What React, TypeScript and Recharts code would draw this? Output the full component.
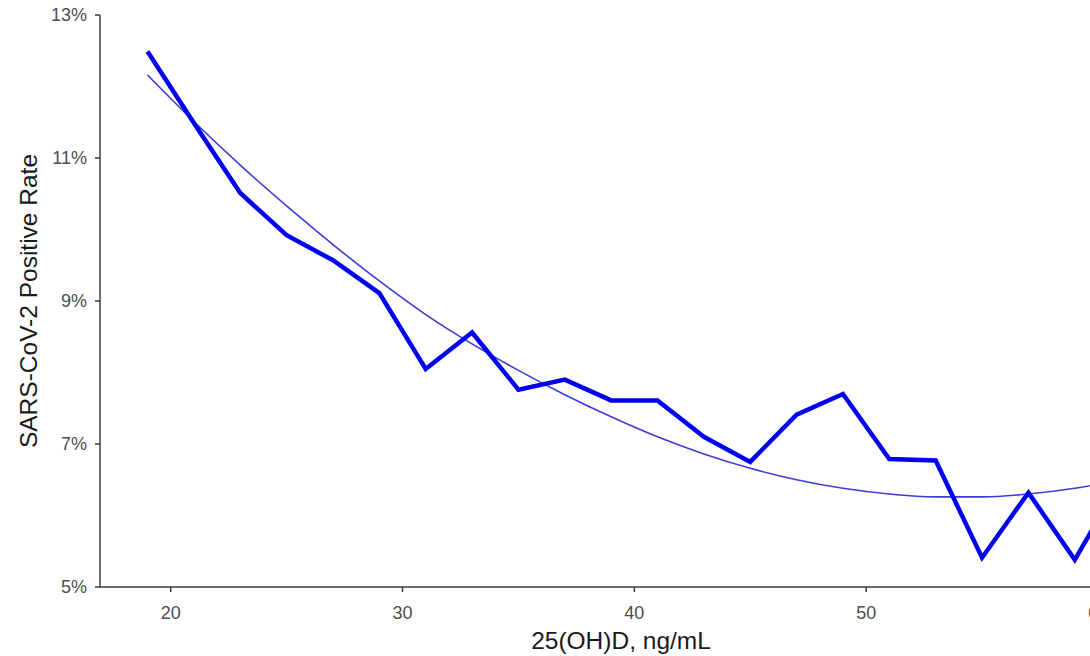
import React from "react";
import { LineChart, Line, XAxis, YAxis, Label } from "recharts";

// 25(OH)D levels (ng/mL), bin midpoints
const vitaminD = [19, 21, 23, 25, 27, 29, 31, 33, 35, 37, 39, 41, 43, 45, 47, 49, 51, 53, 55, 57, 59, 61];

// Observed SARS-CoV-2 positivity (%) per bin
const observedRate = [12.49, 11.49, 10.51, 9.92, 9.57, 9.11, 8.05, 8.56, 7.76, 7.9, 7.61, 7.61, 7.1, 6.75, 7.41, 7.7, 6.79, 6.77, 5.41, 6.32, 5.38, 6.5];

// Smoothed trend of the positivity (%)
const fittedRate = [12.16, 11.51, 10.9, 10.33, 9.79, 9.28, 8.81, 8.4, 8.03, 7.69, 7.38, 7.1, 6.86, 6.66, 6.5, 6.38, 6.3, 6.26, 6.26, 6.3, 6.38, 6.5];

const xTicks = [20, 30, 40, 50, 60];
const yTicks = [5, 7, 9, 11, 13];

const data = vitaminD.map((d, i) => ({
  d,
  observed: observedRate[i],
  fitted: fittedRate[i],
}));

const FONT = "'Liberation Sans', Arial, Helvetica, sans-serif";
const AXIS_COLOR = "#3d3d3d";
const TICK_COLOR = "#4d4d4d";

const YTitle = (props: any) => {
  const { viewBox } = props;
  const cx = 28;
  const cy = viewBox.y + viewBox.height / 2;
  return (
    <text
      x={cx}
      y={cy}
      transform={`rotate(-90, ${cx}, ${cy})`}
      textAnchor="middle"
      dominantBaseline="central"
      fontFamily={FONT}
      fontSize={24.5}
      fill="#1a1a1a"
    >
      SARS-CoV-2 Positive Rate
    </text>
  );
};

const XTitle = (props: any) => {
  const { viewBox } = props;
  const cx = viewBox.x + viewBox.width / 2;
  return (
    <text x={cx} y={649} textAnchor="middle" fontFamily={FONT} fontSize={24.5} fill="#1a1a1a">
      25(OH)D, ng/mL
    </text>
  );
};

export default function App() {
  return (
    <div
      style={{
        position: "absolute",
        left: 0,
        top: 0,
        width: 1090,
        height: 656,
        overflow: "hidden",
        background: "#fff",
      }}
    >
      <LineChart
        width={1142}
        height={656}
        data={data}
        margin={{ top: 15, right: 0, bottom: 0, left: 0 }}
      >
        <XAxis
          dataKey="d"
          type="number"
          domain={[16.95, 61.9]}
          ticks={xTicks}
          allowDataOverflow
          height={69}
          tickSize={5}
          tickMargin={14}
          stroke={AXIS_COLOR}
          strokeWidth={1.5}
          tick={{ fill: TICK_COLOR, fontSize: 18, fontFamily: FONT }}
        >
          <Label content={<XTitle />} />
        </XAxis>
        <YAxis
          type="number"
          domain={[5, 13]}
          ticks={yTicks}
          width={100}
          tickSize={5}
          tickMargin={8}
          stroke={AXIS_COLOR}
          strokeWidth={1.5}
          tickFormatter={(v: number) => `${v}%`}
          tick={{ fill: TICK_COLOR, fontSize: 18, fontFamily: FONT }}
        >
          <Label content={<YTitle />} />
        </YAxis>
        <Line
          dataKey="fitted"
          type="monotone"
          stroke="#3c3cd6"
          strokeWidth={1.6}
          dot={false}
          isAnimationActive={false}
        />
        <Line
          dataKey="observed"
          type="linear"
          stroke="#0000ee"
          strokeWidth={4.5}
          dot={false}
          isAnimationActive={false}
        />
      </LineChart>
    </div>
  );
}
